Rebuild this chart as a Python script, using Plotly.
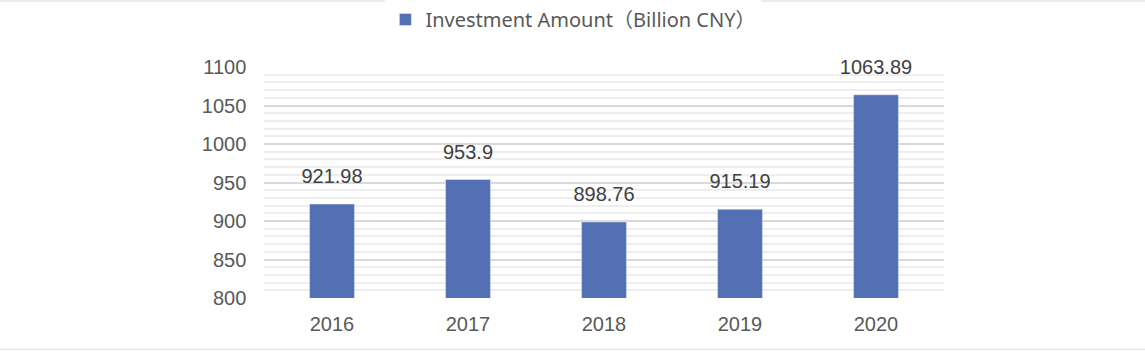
import plotly.graph_objects as go

years = ["2016", "2017", "2018", "2019", "2020"]
values = [921.98, 953.9, 898.76, 915.19, 1063.89]
labels = ["921.98", "953.9", "898.76", "915.19", "1063.89"]
series_name = "Investment Amount（Billion CNY）"
bar_color = "#5470b4"

fig = go.Figure()
fig.add_trace(go.Bar(x=years, y=values, name=series_name, marker=dict(color=bar_color),
                     showlegend=True, hoverinfo="skip"))
# value labels (invisible marker used only to offset the text above the bar)
fig.add_trace(go.Scatter(x=years, y=values, text=labels, mode="markers+text", textposition="top center",
                         marker=dict(size=24, color="rgba(0,0,0,0)"), showlegend=False, hoverinfo="skip",
                         cliponaxis=False,
                         textfont=dict(family="Liberation Sans, Arial", size=20, color="#404040")))

fig.update_layout(
    width=1145, height=351,
    margin=dict(l=264, r=201, t=67, b=53, autoexpand=False),
    plot_bgcolor="white", paper_bgcolor="white",
    bargap=0.67,
    showlegend=True,
    legend=dict(orientation="h", x=0.455, xanchor="center", y=1.29, yanchor="top",
                font=dict(family="Noto Sans, Noto Sans CJK SC", size=20, color="#595959")),
    xaxis=dict(type="category", showgrid=False, showline=False, ticks="outside", ticklen=8,
               tickcolor="rgba(0,0,0,0)",
               tickfont=dict(family="Liberation Sans, Arial", size=20, color="#595959")),
    yaxis=dict(range=[800, 1100], dtick=50, tick0=800, showgrid=True, gridcolor="#d9d9d9", gridwidth=1.5,
               zeroline=False, showline=False, ticksuffix="   ",
               tickfont=dict(family="Liberation Sans, Arial", size=20, color="#595959"),
               minor=dict(dtick=10, tick0=800, showgrid=True, gridcolor="#eeeeee", gridwidth=1.5)),
)

H = 231.0
fig.add_shape(type="line", xref="paper", yref="paper", x0=-264 / 680, x1=881 / 680,
              y0=297 / H, y1=297 / H, line=dict(color="#e6e6e6", width=1.5))
fig.add_shape(type="line", xref="paper", yref="paper", x0=-264 / 680, x1=881 / 680,
              y0=-51.5 / H, y1=-51.5 / H, line=dict(color="#e6e6e6", width=1.5))

fig.write_html("out.html", post_script="document.body.style.margin='0';", config={"displayModeBar": False})
